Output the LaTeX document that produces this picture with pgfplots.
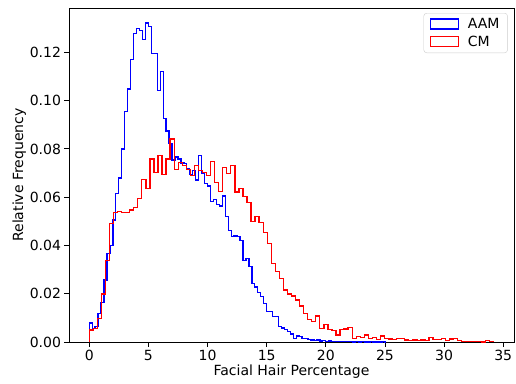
\documentclass[border=0pt]{standalone}
\usepackage{fontspec}
\setmainfont{DejaVu Sans}
\usepackage{pgfplots}
\usepackage{pgfplotstable}
\pgfplotsset{compat=1.18}

\pgfplotstableread{
x y
0 0
0 0.0079
0.25 0.0057
0.5 0.0065
0.75 0.0119
1 0.0164
1.25 0.0257
1.5 0.0367
1.75 0.0400
2 0.0505
2.25 0.0616
2.5 0.068
2.75 0.080
3 0.0954
3.25 0.1048
3.5 0.117
3.75 0.1278
4 0.1298
4.25 0.129
4.5 0.1253
4.75 0.1322
5 0.1308
5.25 0.1195
5.5 0.1195
5.75 0.1041
6 0.112
6.25 0.0925
6.5 0.0874
6.75 0.0823
7 0.0754
7.25 0.0767
7.5 0.0758
7.75 0.0742
8 0.0741
8.25 0.0719
8.5 0.0694
8.75 0.0712
9 0.0671
9.25 0.0772
9.5 0.0698
9.75 0.0657
10 0.0646
10.25 0.0581
10.5 0.0591
10.75 0.0571
11 0.0563
11.25 0.0605
11.5 0.0519
11.75 0.0461
12 0.0436
12.25 0.0439
12.5 0.0436
12.75 0.0422
13 0.0337
13.25 0.0345
13.5 0.0312
13.75 0.0243
14 0.0228
14.25 0.0204
14.5 0.0188
14.75 0.016
15 0.0126
15.25 0.0126
15.5 0.0105
15.75 0.0105
16 0.0063
16.25 0.0058
16.5 0.0052
16.75 0.0043
17 0.0033
17.25 0.0015
17.5 0.0025
17.75 0.0022
18 0.0015
18.25 0.0015
18.5 0.0011
18.75 0.0008
19 0.0006
19.25 0.0008
19.5 0.0004
19.75 0.0006
20 0.0003
20.25 0.0004
20.5 0.0002
20.75 0.0003
21 0.0002
21.25 0.0001
21.5 0.0002
21.75 0.0001
22 0.0001
22.25 0
22.5 0.0001
22.75 0
23 0.0001
23.25 0
23.5 0
23.75 0.0001
24 0
24.25 0
24.5 0
24.75 0.0001
25 0
}\aamdata

\pgfplotstableread{
x y
0 0
0 0.005
0.342 0.0057
0.684 0.0098
1.026 0.0199
1.368 0.0337
1.71 0.0491
2.052 0.0537
2.394 0.054
2.736 0.0537
3.078 0.0537
3.42 0.0547
3.762 0.0558
4.104 0.0595
4.446 0.0672
4.788 0.0636
5.13 0.0758
5.472 0.0703
5.814 0.0774
6.156 0.0694
6.498 0.0758
6.84 0.0841
7.182 0.0716
7.524 0.0744
7.866 0.0732
8.208 0.0716
8.55 0.0689
8.892 0.0732
9.234 0.0712
9.576 0.0701
9.918 0.0689
10.26 0.0747
10.602 0.066
10.944 0.0625
11.286 0.0723
11.628 0.0698
11.97 0.073
12.312 0.0622
12.654 0.0636
12.996 0.0602
13.338 0.0577
13.68 0.0498
14.022 0.0519
14.364 0.0494
14.706 0.0453
15.048 0.0409
15.39 0.0326
15.732 0.0291
16.074 0.0264
16.416 0.0215
16.758 0.0199
17.1 0.019
17.442 0.0174
17.784 0.0149
18.126 0.0119
18.468 0.0094
18.81 0.0084
19.152 0.0108
19.494 0.0057
19.836 0.0073
20.178 0.0052
20.52 0.0047
20.862 0.0029
21.204 0.0052
21.546 0.0054
21.888 0.0059
22.23 0.0015
22.572 0.0022
22.914 0.0018
23.256 0.0029
23.598 0.0015
23.94 0.0018
24.282 0.0011
24.624 0.0025
24.966 0.0015
25.308 0.0012
25.65 0.0011
25.992 0.0014
26.334 0.0015
26.676 0.0008
27.018 0.0006
27.36 0.0008
27.702 0.0006
28.044 0.0008
28.386 0.0006
28.728 0.0019
29.07 0.001
29.412 0.001
29.754 0.0015
30.096 0.0007
30.438 0.0013
30.78 0.0014
31.122 0.0006
31.464 0.0003
31.806 0.0003
32.148 0.0003
32.49 0.0003
32.832 0.0003
33.174 0
33.516 0.0005
33.858 0.0003
34.2 0
}\cmdata

\begin{document}
\begin{tikzpicture}
\begin{axis}[
  scale only axis,
  width=445pt, height=334pt,
  xmin=-1.71, xmax=35.91,
  ymin=0, ymax=0.1384,
  xtick={0,5,10,15,20,25,30,35},
  ytick={0,0.02,0.04,0.06,0.08,0.1,0.12},
  scaled y ticks=false,
  yticklabel style={/pgf/number format/.cd, fixed, fixed zerofill, precision=2},
  /pgf/number format/assume math mode=true,
  tick align=outside,
  xtick pos=bottom, ytick pos=left,
  major tick length=4.5pt,
  tick style={black, line width=0.9pt},
  axis line style={black, line width=0.9pt},
  ticklabel style={font=\fontsize{14}{16}\selectfont},
  label style={font=\fontsize{14}{16}\selectfont},
  xlabel={Facial Hair Percentage},
  ylabel={Relative Frequency},
  xlabel style={yshift=3pt},
  ylabel style={yshift=-3pt},
  legend style={at={(rel axis cs:0.986,0.985)}, anchor=north east,
    draw=black!20, rounded corners=3pt, fill=white,
    font=\fontsize{14}{16}\selectfont, inner xsep=6pt, inner ysep=3pt,
    row sep=2pt, column sep=7pt},
  legend cell align=left,
  legend image code/.code={\draw[#1, sharp corners, line width=1.2pt] (0pt,-5pt) rectangle (28pt,5pt);},
]
\addplot[const plot mark left, blue, line width=1.3pt, line join=miter] table {\aamdata};
\addlegendentry{AAM}
\addplot[const plot mark left, red, line width=1.3pt, line join=miter] table {\cmdata};
\addlegendentry{CM}
\end{axis}
\path ([xshift=-69pt,yshift=-41pt]current axis.south west) rectangle ([xshift=2pt,yshift=8pt]current axis.north east);
\end{tikzpicture}
\end{document}
